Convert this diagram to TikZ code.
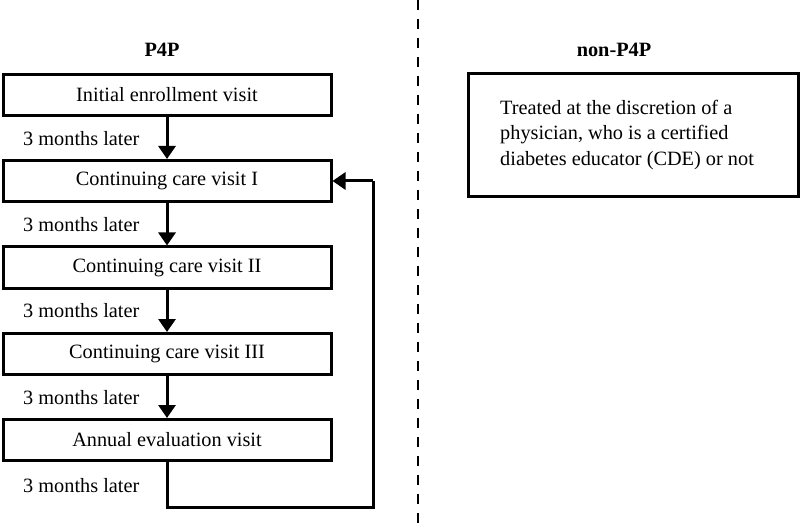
\documentclass[tikz,border=0pt]{standalone}
\usepackage{fontspec}
\setmainfont{Liberation Serif}
\usetikzlibrary{arrows.meta}
\begin{document}
\begin{tikzpicture}[x=1pt,y=-1pt,
  stepbox/.style={draw,line width=3pt,minimum width=328pt,minimum height=41pt,inner sep=0pt,font=\fontsize{20.3}{25}\selectfont},
  lbl/.style={font=\fontsize{20.3}{25}\selectfont,anchor=west,inner sep=0pt},
  ttl/.style={font=\fontsize{20.3}{25}\selectfont\bfseries},
  conn/.style={line width=3pt,-{Triangle[length=13pt,width=17pt]}},
  loop/.style={line width=3pt}]
\useasboundingbox (0,0) rectangle (800,529);
\draw[line width=2.6pt,dash pattern=on 10pt off 9pt] (418,0) -- (418,529);
\node[ttl] (t1) at (162,50) {P4P};
\node[ttl] (t2) at (614,50) {non-P4P};
\node[stepbox] (b1) at (167,95) {Initial enrollment visit};
\node[stepbox] (b2) at (167,181) {Continuing care visit I};
\node[stepbox] (b3) at (167,267.5) {Continuing care visit II};
\node[stepbox] (b4) at (167,354) {Continuing care visit III};
\node[stepbox] (b5) at (167,440) {Annual evaluation visit};
\node[lbl] (l1) at (23,139) {3 months later};
\node[lbl] (l2) at (23,225) {3 months later};
\node[lbl] (l3) at (23,311) {3 months later};
\node[lbl] (l4) at (23,398) {3 months later};
\node[lbl] (l5) at (23,486) {3 months later};
\draw[conn] (b1) -- (b2);
\draw[conn] (b2) -- (b3);
\draw[conn] (b3) -- (b4);
\draw[conn] (b4) -- (b5);
\coordinate (c1) at (167,507);
\coordinate (c2) at (373,507);
\coordinate (c3) at (373,181);
\draw[loop,line join=miter] (b5.south) -- (c1) -- (c2) -- (c3);
\draw[conn] (c3) -- (b2.east);
\node[draw,line width=3pt,minimum width=330pt,minimum height=123pt,inner sep=0pt] (r) at (633,135.5) {};
\node[font=\fontsize{20.3}{25.5}\selectfont,align=left,anchor=north west,inner sep=0pt] (rt) at (500,100)
  {Treated at the discretion of a\\physician, who is a certified\\diabetes educator (CDE) or not};
\end{tikzpicture}
\end{document}
